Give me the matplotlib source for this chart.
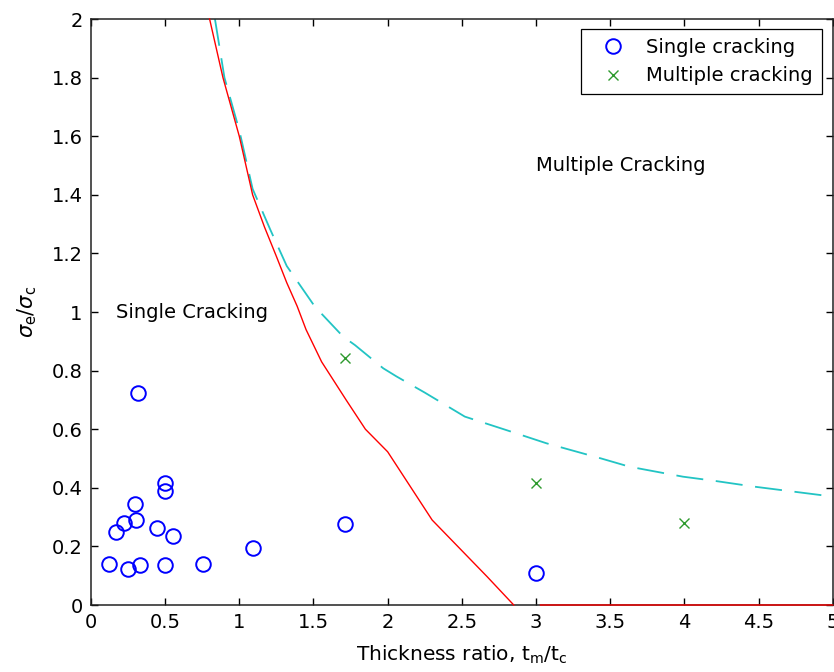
import numpy as np
import matplotlib.pyplot as plt

# single cracking observations
single_x = [0.12, 0.167, 0.225, 0.25, 0.295, 0.305, 0.32, 0.33, 0.445, 0.5, 0.5, 0.5, 0.55, 0.755, 1.09, 1.71, 3.0]
single_y = [0.14, 0.25, 0.28, 0.123, 0.345, 0.29, 0.725, 0.135, 0.263, 0.415, 0.39, 0.135, 0.235, 0.14, 0.193, 0.275, 0.11]

# multiple cracking observations
multi_x = [1.71, 3.0, 4.0]
multi_y = [0.842, 0.415, 0.281]

# lower boundary (red); NaN marks the gap before the zero segment
red_x = [0.80, 0.89, 1.0, 1.09, 1.17, 1.25, 1.32, 1.39, 1.45, 1.555, 1.72, 1.85, 2.0, 2.3, 2.67, 2.85, np.nan, 3.03, 5.0]
red_y = [2.0, 1.8, 1.6, 1.4, 1.29, 1.19, 1.10, 1.02, 0.94, 0.83, 0.70, 0.60, 0.523, 0.29, 0.097, 0.0, np.nan, 0.0, 0.0]

# upper boundary (cyan dashed)
cyan_x = [0.836, 0.9, 1.0, 1.09, 1.21, 1.32, 1.51, 1.70, 1.78, 1.97, 2.06, 2.25, 2.52, 2.80, 3.07, 3.44, 3.63, 3.99, 4.2, 4.47, 5.0]
cyan_y = [2.0, 1.8, 1.62, 1.42, 1.28, 1.157, 1.018, 0.916, 0.887, 0.808, 0.78, 0.725, 0.643, 0.597, 0.552, 0.50, 0.472, 0.438, 0.424, 0.404, 0.37]

plt.rcParams['font.family'] = ['DejaVu Sans']

fig = plt.figure(figsize=(8.34, 6.72), dpi=100)
ax = fig.add_axes([0.109, 0.0997, 0.8895, 0.872])

ax.plot(single_x, single_y, 'o', mfc='none', mec='blue', mew=1.4, ms=10.5, label='Single cracking')
ax.plot(multi_x, multi_y, 'x', color='#2e9a2e', mew=1.0, ms=6.5, label='Multiple cracking')
ax.plot(red_x, red_y, '-', color='red', lw=1.0, clip_on=False, zorder=3)
ax.plot(cyan_x, cyan_y, '--', color='#22c4c4', lw=1.3, dashes=(15, 7))

ax.text(0.17, 1.0, 'Single Cracking', fontsize=14, va='center')
ax.text(3.0, 1.5, 'Multiple Cracking', fontsize=14, va='center')

ax.set_xlim(0, 5)
ax.set_ylim(0, 2)
ax.set_xticks(np.arange(0, 5.01, 0.5))
ax.set_xticklabels(['0', '0.5', '1', '1.5', '2', '2.5', '3', '3.5', '4', '4.5', '5'])
ax.set_yticks(np.arange(0, 2.01, 0.2))
ax.set_yticklabels(['0', '0.2', '0.4', '0.6', '0.8', '1', '1.2', '1.4', '1.6', '1.8', '2'])
ax.tick_params(direction='in', top=True, right=True, length=5, width=1, labelsize=14, pad=6)
for s in ax.spines.values():
    s.set_linewidth(1.1)
    s.set_color('#222222')

ax.set_xlabel(r'Thickness ratio, t$_\mathregular{m}$/t$_\mathregular{c}$', fontsize=14.5, labelpad=8)
ax.set_ylabel(r'$\sigma_\mathregular{e}/\sigma_\mathregular{c}$', fontsize=15, labelpad=9)

leg = ax.legend(loc='upper right', fontsize=14, fancybox=False, edgecolor='black',
                framealpha=1, borderpad=0.45, handletextpad=0.5, handlelength=2.4,
                labelspacing=0.5, borderaxespad=0, bbox_to_anchor=(0.985, 0.983))
leg.get_frame().set_linewidth(0.9)

fig.savefig('out.png', dpi=100)
